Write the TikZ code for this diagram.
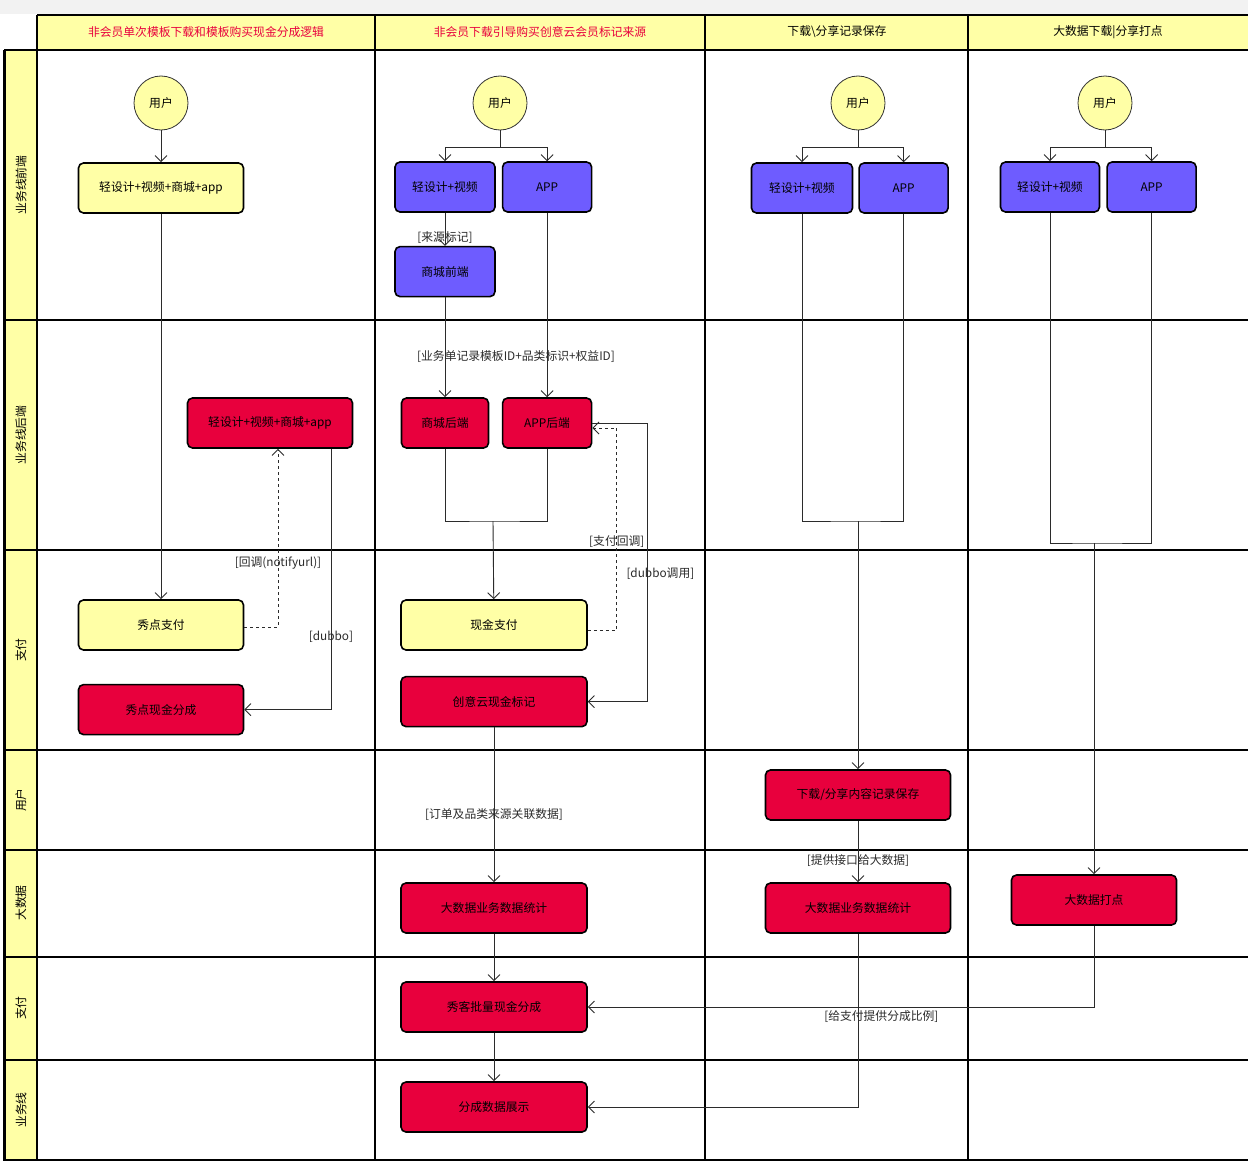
\documentclass[tikz,border=0pt]{standalone}
\usepackage{fontspec}
\setmainfont{Noto Sans CJK SC}
\usepackage{xcolor}
\usepackage{tikz}
\usetikzlibrary{arrows.meta,positioning}
\definecolor{laneyellow}{HTML}{FFFFA6}
\definecolor{actblue}{HTML}{6E5CFF}
\definecolor{actred}{HTML}{E8003D}
\definecolor{titlered}{HTML}{E8003D}
\definecolor{flowink}{HTML}{2B2B2B}
\newcommand\boxfont{\fontsize{11.8}{13}\selectfont}

\begin{document}
\begin{tikzpicture}[
  x=1pt,y=-1pt,
  >={Straight Barb[length=6pt,width=12pt]},
  laneline/.style={draw=black,line width=2pt},
  lanetext/.style={rotate=90,font=\boxfont},
  actor/.style={circle,draw=black!80,line width=.8pt,fill=laneyellow,
    minimum size=54pt,inner sep=0pt,font=\boxfont},
  act/.style={draw=black,line width=1.6pt,rounded corners=5pt,
    minimum height=50pt,inner sep=1pt,font=\boxfont},
  yact/.style={act,fill=laneyellow},
  bact/.style={act,fill=actblue},
  ract/.style={act,fill=actred},
  flow/.style={draw=flowink,line width=.9pt},
  guard/.style={font=\boxfont,text=flowink,inner sep=1pt}
]
  \useasboundingbox (0,0) rectangle (1248,1164);
  \fill[white] (0,0) rectangle (1248,1164);
  \fill[black!5] (0,0) rectangle (1248,14);

  % swimlanes
  \fill[laneyellow] (37,15) rectangle (1248,50);
  \fill[laneyellow] (4,50) rectangle (37,1160);
  \foreach \y in {50,320,550,750,850,957,1060,1160}
    \draw[laneline] (4,\y) -- (1248,\y);
  \draw[laneline] (37,15) -- (1248,15);
  \foreach \x in {37,375,705,968}
    \draw[laneline] (\x,15) -- (\x,1160);
  \draw[black,line width=3pt] (4,50) -- (4,1161);

  \foreach \yc/\txt in {185/业务线前端,435/业务线后端,650/支付,800/用户,
      903/大数据,1008/支付,1110/业务线}
    \node[lanetext] (lane\yc) at (21,\yc) {\txt};

  \node[font=\boxfont,text=titlered] (head1) at (206,32) {非会员单次模板下载和模板购买现金分成逻辑};
  \node[font=\boxfont,text=titlered] (head2) at (540,32) {非会员下载引导购买创意云会员标记来源};
  \node[font=\boxfont] (head3) at (837,32) {下载\textbackslash 分享记录保存};
  \node[font=\boxfont] (head4) at (1108,32) {大数据下载\textbar 分享打点};

  % column 1
  \node[actor] (user1) at (161,103) {用户};
  \node[yact,minimum width=165pt] (front1) at (161,188) {轻设计+视频+商城+app};
  \node[ract,minimum width=165pt] (back1) at (270,423) {轻设计+视频+商城+app};
  \node[yact,minimum width=165pt] (xdpay1) at (161,625) {秀点支付};
  \node[ract,minimum width=165pt,below=33pt of xdpay1] (xdsplit1) {秀点现金分成};

  % column 2
  \node[actor] (user2) at (500,103) {用户};
  \node[bact,minimum width=100pt] (lite2) at (445,187) {轻设计+视频};
  \node[bact,minimum width=89pt,right=6pt of lite2] (app2) {APP};
  \node[bact,minimum width=100pt,below=33pt of lite2] (mallfe2) {商城前端};
  \node[ract,minimum width=87pt] (mallbe2) at (445,423) {商城后端};
  \node[ract,minimum width=89pt] (appbe2) at (app2 |- mallbe2) {APP后端};
  \node[yact,minimum width=186pt] (cashpay2) at (494,625) {现金支付};
  \node[ract,minimum width=186pt,below=25pt of cashpay2] (mark2) {创意云现金标记};
  \node[ract,minimum width=186pt] (bigdata2) at (494,908) {大数据业务数据统计};
  \node[ract,minimum width=186pt] (split2) at (494,1007) {秀客批量现金分成};
  \node[ract,minimum width=186pt] (show2) at (494,1107) {分成数据展示};

  % column 3
  \node[actor] (user3) at (858,103) {用户};
  \node[bact,minimum width=101pt] (lite3) at (802,188) {轻设计+视频};
  \node[bact,minimum width=89pt,right=5pt of lite3] (app3) {APP};
  \node[ract,minimum width=185pt] (record3) at (858,795) {下载/分享内容记录保存};
  \node[ract,minimum width=185pt] (bigdata3) at (858,908) {大数据业务数据统计};

  % column 4
  \node[actor] (user4) at (1105,103) {用户};
  \node[bact,minimum width=99pt] (lite4) at (1050,187) {轻设计+视频};
  \node[bact,minimum width=89pt,right=6pt of lite4] (app4) {APP};
  \node[ract,minimum width=165pt] (dot4) at (1094,900) {大数据打点};

  \coordinate (fork2) at (500,147);
  \coordinate (fork3) at (858,147);
  \coordinate (fork4) at (1105,147);
  \coordinate (join2) at (493,521);
  \coordinate (join3) at (858,521);
  \coordinate (join4) at (1094,543);

  % flows, column 1
  \draw[flow,->] (user1) -- (front1);
  \draw[flow,->] (front1) -- (xdpay1);
  \draw[flow,->,dashed] ([yshift=-2pt]xdpay1.east) -| node[guard,pos=.68] {[回调(notifyurl)]}
    ([xshift=8pt]back1.south);
  \draw[flow,->] ([xshift=61pt]back1.south) |- node[guard,pos=.36] {[dubbo]} (xdsplit1.east);

  % flows, column 2
  \draw[flow] (user2) -- (fork2);
  \draw[flow,->] (fork2) -| (lite2);
  \draw[flow,->] (fork2) -| (app2);
  \draw[flow,->] (lite2) -- node[guard,pos=.75] {[来源标记]} (mallfe2);
  \draw[flow,->] (mallfe2) -- node[guard,pos=.59,xshift=71pt] {[业务单记录模板ID+品类标识+权益ID]} (mallbe2);
  \draw[flow,->] (app2) -- (appbe2);
  \draw[flow] (mallbe2) |- (join2) -| (appbe2);
  \draw[flow,->] (join2) -- (cashpay2);
  \draw[flow,->,dashed] ([yshift=-5pt]cashpay2.east) -- ++(29,0)
    |- node[guard,pos=.22] {[支付回调]} ([yshift=-5pt]appbe2.east);
  \draw[flow,->] (appbe2.east) -- ++(55,0)
    |- node[guard,pos=.27,xshift=13pt] {[dubbo调用]} (mark2.east);
  \draw[flow,->] (mark2) -- node[guard,pos=.56] {[订单及品类来源关联数据]} (bigdata2);
  \draw[flow,->] (bigdata2) -- (split2);
  \draw[flow,->] (split2) -- (show2);

  % flows, column 3
  \draw[flow] (user3) -- (fork3);
  \draw[flow,->] (fork3) -| (lite3);
  \draw[flow,->] (fork3) -| (app3);
  \draw[flow] (lite3) |- (join3) -| (app3);
  \draw[flow,->] (join3) -- (record3);
  \draw[flow,->] (record3) -- node[guard,pos=.65] {[提供接口给大数据]} (bigdata3);
  \draw[flow,->] (bigdata3) |- (show2);

  % flows, column 4
  \draw[flow] (user4) -- (fork4);
  \draw[flow,->] (fork4) -| (lite4);
  \draw[flow,->] (fork4) -| (app4);
  \draw[flow] (lite4) |- (join4) -| (app4);
  \draw[flow,->] (join4) -- (dot4);
  \draw[flow,->] (dot4) |- node[guard,pos=.71,below=2pt] {[给支付提供分成比例]} (split2);
\end{tikzpicture}
\end{document}
